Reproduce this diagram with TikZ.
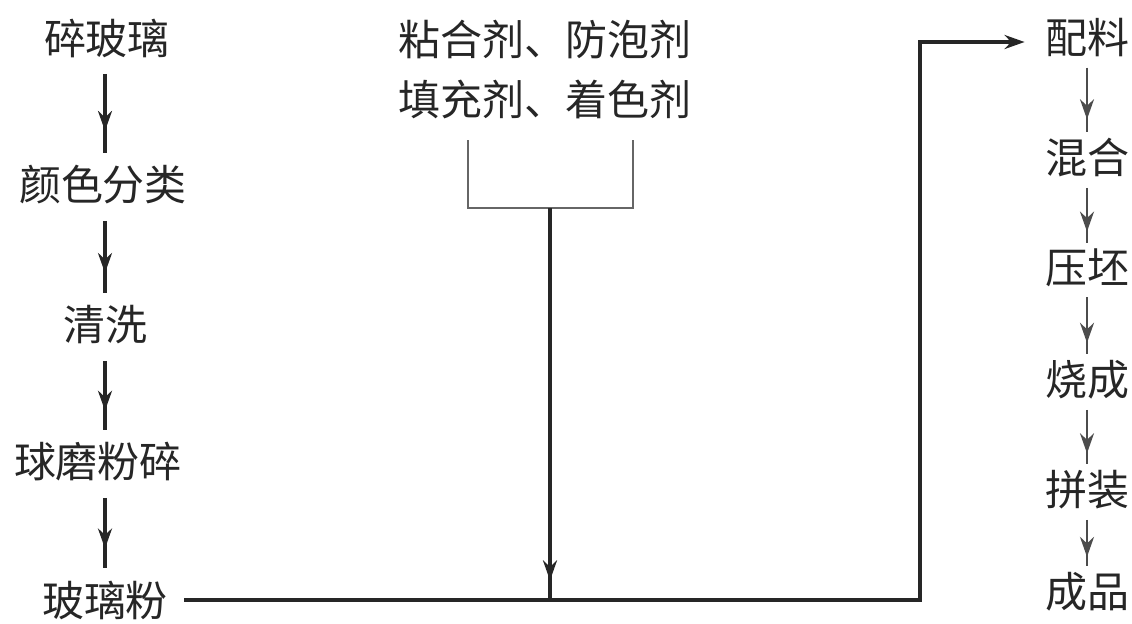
\documentclass[tikz,border=0pt]{standalone}
\usepackage{fontspec}
\newfontfamily\cjk{Noto Sans CJK SC}
\usetikzlibrary{arrows.meta,decorations.markings}
\begin{document}
\begin{tikzpicture}[x=0.5pt,y=-0.5pt,
  lbl/.style={font=\cjk\fontsize{21pt}{30pt}\selectfont, inner sep=0pt, text=black!85},
  flow/.style={line width=1.8pt, draw=black!85, postaction={decorate},
    decoration={markings, mark=at position #1 with {\arrow{Stealth[length=10pt,width=7pt]}}}},
  flow/.default=0.72,
  thinflow/.style={flow=#1, line width=1.2pt, draw=black!70},
  thinflow/.default=0.8,
  ln/.style={line width=1.8pt, draw=black!85},
  brk/.style={line width=1.3pt, draw=black!60}]
\useasboundingbox (0,0) rectangle (1132,623);
% left column
\node[lbl] (a1) at (107,38) {碎玻璃};
\node[lbl] (a2) at (103,185) {颜色分类};
\node[lbl] (a3) at (105,325) {清洗};
\node[lbl] (a4) at (98,462) {球磨粉碎};
\node[lbl] (a5) at (105,600) {玻璃粉};
\draw[flow] ([yshift=-8pt]a1.south -| 105,0) -- ([yshift=6pt]a2.north -| 105,0);
\draw[flow] ([yshift=-8pt]a2.south -| 105,0) -- ([yshift=6pt]a3.north -| 105,0);
\draw[flow] ([yshift=-8pt]a3.south -| 105,0) -- ([yshift=6pt]a4.north -| 105,0);
\draw[flow] ([yshift=-8pt]a4.south -| 105,0) -- ([yshift=6pt]a5.north -| 105,0);
% additives
\node[lbl, align=center] (add) at (545,70) {粘合剂、防泡剂\\填充剂、着色剂};
\coordinate (bl) at (468,140);
\coordinate (br) at (633,140);
\coordinate (bm) at (550,208);
\coordinate (j) at (550,600);
\coordinate (c1) at (920,600);
\draw[brk] (bl) -- (bl |- bm) -- (br |- bm) -- (br);
\draw[flow=0.95] (bm) -- (j);
% right column
\node[lbl] (b1) at (1087,38) {配料};
\node[lbl] (b2) at (1087,158) {混合};
\node[lbl] (b3) at (1087,268) {压坯};
\node[lbl] (b4) at (1087,380) {烧成};
\node[lbl] (b5) at (1087,490) {拼装};
\node[lbl] (b6) at (1087,592) {成品};
\draw[thinflow] ([yshift=-5pt]b1.south) -- ([yshift=3pt]b2.north);
\draw[thinflow] ([yshift=-5pt]b2.south) -- ([yshift=3pt]b3.north);
\draw[thinflow] ([yshift=-5pt]b3.south) -- ([yshift=3pt]b4.north);
\draw[thinflow] ([yshift=-5pt]b4.south) -- ([yshift=3pt]b5.north);
\draw[thinflow] ([yshift=-5pt]b5.south) -- ([yshift=3pt]b6.north);
% main line
\draw[ln, -{Stealth[length=10pt,width=7pt]}] ([xshift=8pt]a5.east) -- (j) -- (c1) |- ([xshift=-10pt,yshift=-2pt]b1.west);
\end{tikzpicture}
\end{document}
